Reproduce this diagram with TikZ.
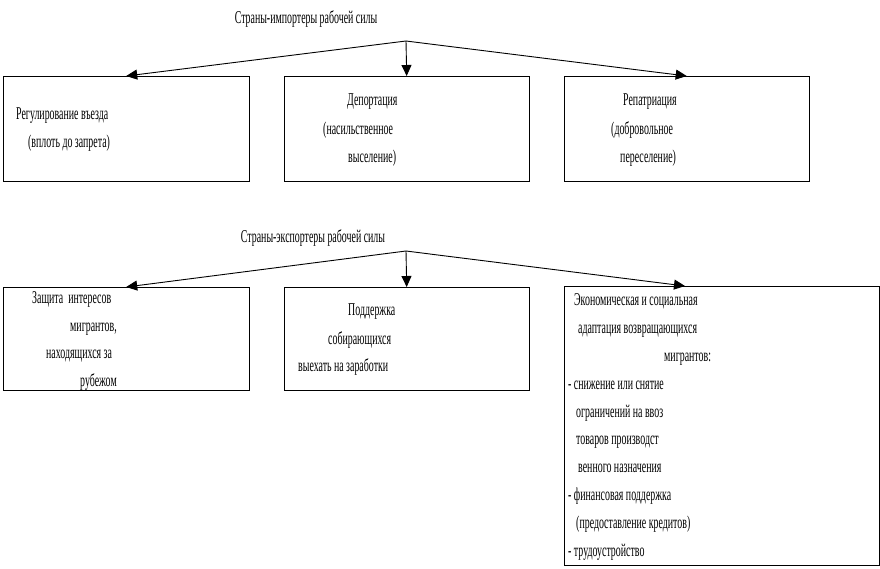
\documentclass[tikz,border=0pt]{standalone}
\usepackage{fontspec}
\setmainfont{Liberation Serif}[FakeStretch=0.55]
\usetikzlibrary{arrows.meta,calc}
\tikzset{
  frame/.style={draw, line width=1pt},
  boxnode/.style={inner sep=0pt, anchor=north west},
  txt/.style={anchor=base west, inner sep=0pt, font=\fontsize{18}{20}\selectfont},
  ttl/.style={anchor=center, inner sep=0pt, font=\fontsize{18}{20}\selectfont},
  arr/.style={line width=0.9pt, -{Triangle[length=11pt,width=10pt]}}
}
\begin{document}
\begin{tikzpicture}[x=1pt,y=-1pt]
\useasboundingbox (0,0) rectangle (880,568);
% row 1 boxes
\node[boxnode, minimum width=246pt, minimum height=105pt] (b1) at (3,76) {};
\node[boxnode, minimum width=245pt, minimum height=105pt] (b2) at (284,76) {};
\node[boxnode, minimum width=245pt, minimum height=105pt] (b3) at (564,76) {};
\draw[frame] (b1.north west) rectangle (b1.south east);
\draw[frame] (b2.north west) rectangle (b2.south east);
\draw[frame] (b3.north west) rectangle (b3.south east);
% row 2 boxes
\node[boxnode, minimum width=246pt, minimum height=103pt] (e1) at (3,287) {};
\node[boxnode, minimum width=245pt, minimum height=103pt] (e2) at (284,287) {};
\node[boxnode, minimum width=315pt, minimum height=279pt] (e3) at (564,286) {};
\draw[frame] (e1.north west) rectangle (e1.south east);
\draw[frame] (e2.north west) rectangle (e2.south east);
\draw[frame] (e3.north west) rectangle (e3.south east);
% titles
\node[ttl] (t1) at (306,19) {Страны-импортеры рабочей силы};
\node[ttl] (t2) at (313,238) {Страны-экспортеры рабочей силы};
% junctions
\coordinate (j1) at (406,41);
\coordinate (j2) at (406,251);
\draw[arr] (j1) -- (b1.north);
\draw[arr] (j1) -- (b2.north);
\draw[arr] (j1) -- (b3.north);
\coordinate (e3t) at ($(e3.north west)+(121,0)$);
\draw[arr] (j2) -- (e1.north);
\draw[arr] (j2) -- (e2.north);
\draw[arr] (j2) -- (e3t);
% texts row 1
\node[txt] (a1) at (16,119) {Регулирование въезда};
\node[txt] (a2) at (28,147) {(вплоть до запрета)};
\node[txt] (a3) at (347,105) {Депортация};
\node[txt] (a4) at (323,134) {(насильственное};
\node[txt] (a5) at (348,162) {выселение)};
\node[txt] (a6) at (623,105) {Репатриация};
\node[txt] (a7) at (611,134) {(добровольное};
\node[txt] (a8) at (620,162) {переселение)};
% texts row 2
\node[txt] (c1) at (32,303) {Защита\ \ интересов};
\node[txt] (c2) at (70,331) {мигрантов,};
\node[txt] (c3) at (46,358) {находящихся за};
\node[txt] (c4) at (80,386) {рубежом};
\node[txt] (d1) at (348,315) {Поддержка};
\node[txt] (d2) at (328,344) {собирающихся};
\node[txt] (d3) at (298,371) {выехать на заработки};
\node[txt] (f1) at (574,305) {Экономическая и социальная};
\node[txt] (f2) at (578,333) {адаптация возвращающихся};
\node[txt] (f3) at (664,361) {мигрантов:};
\node[txt] (f4) at (568,389) {- снижение или снятие};
\node[txt] (f5) at (576,417) {ограничений на ввоз};
\node[txt] (f6) at (576,444) {товаров производст};
\node[txt] (f7) at (578,472) {венного назначения};
\node[txt] (f8) at (568,500) {- финансовая поддержка};
\node[txt] (f9) at (576,528) {(предоставление кредитов)};
\node[txt] (f10) at (568,556) {- трудоустройство};
\end{tikzpicture}
\end{document}
